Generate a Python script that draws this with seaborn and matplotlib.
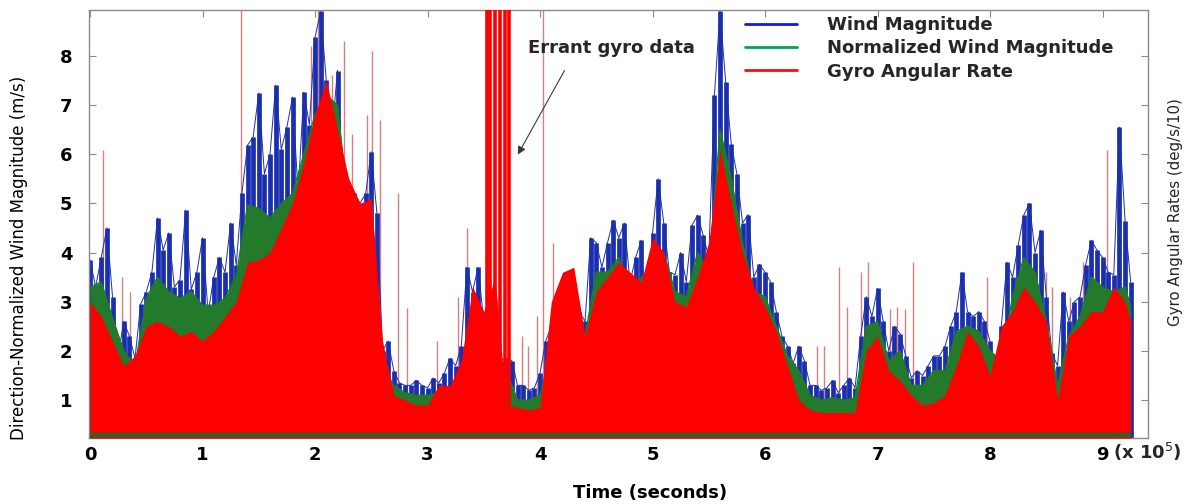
import numpy as np
import matplotlib
matplotlib.use("Agg")
import matplotlib.pyplot as plt
import seaborn as sns
from matplotlib.lines import Line2D

# ---- data (x in units of 1e5 s) ----
# Wind magnitude upper envelope, every 0.05e5 s from 0 to 9.25e5 s
wind_mag = [
    3.85, 3.3, 3.9, 4.5, 3.1, 1.9, 2.6, 2.3, 1.85, 2.95, 3.2, 3.6, 4.7, 4.05, 4.4, 3.3, 3.45, 4.86, 3.25, 3.6,
    4.3, 2.77, 3.5, 3.9, 3.6, 4.6, 3.75, 5.2, 6.18, 6.35, 7.24, 5.6, 6.0, 7.4, 6.1, 6.55, 7.16, 5.2, 7.26, 6.6,
    8.38, 8.9, 7.5, 6.4, 7.7, 5.2, 5.0, 5.2, 5.0, 5.2, 6.05, 4.8, 2.0, 2.2, 1.6, 1.35, 1.3, 1.3, 1.4, 1.3,
    1.25, 1.45, 1.35, 1.55, 1.85, 1.7, 2.1, 3.7, 3.2, 3.7, 2.6, 2.0, 1.9, 1.8, 1.85, 1.8, 1.3, 1.3, 1.2, 1.25,
    1.55, 2.2, 2.5, 2.6, 2.5, 2.7, 2.7, 2.8, 2.6, 4.3, 4.2, 3.7, 4.2, 4.66, 4.3, 4.6, 3.4, 3.9, 4.25, 1.85,
    4.4, 5.5, 4.6, 3.6, 3.55, 4.0, 3.4, 4.55, 4.76, 4.35, 3.9, 7.2, 8.9, 7.47, 6.2, 5.6, 4.6, 4.77, 3.5, 3.76,
    3.6, 3.4, 2.8, 2.3, 2.1, 1.75, 2.1, 1.8, 1.3, 1.3, 1.2, 1.25, 1.4, 1.15, 1.3, 1.45, 1.25, 2.3, 3.1, 2.7,
    3.27, 2.6, 2.0, 2.5, 2.35, 1.9, 1.45, 1.6, 1.5, 1.7, 1.9, 1.9, 2.1, 2.5, 2.8, 3.6, 2.8, 2.7, 2.8, 2.6,
    2.2, 1.65, 2.5, 3.8, 3.5, 4.15, 4.76, 5.0, 4.0, 4.45, 3.1, 1.95, 1.7, 3.2, 2.6, 3.0, 3.1, 3.75, 4.25, 4.05,
    3.9, 3.6, 3.55, 6.55, 4.65, 3.4,
]
# Normalized wind magnitude envelope, every 0.1e5 s from 0 to 9.2e5 s, then the last sample at 9.25e5 s
norm_wind = [
    3.3, 3.4, 2.67, 2.0, 1.7, 3.07, 3.5, 3.2, 3.07, 3.2,
    2.93, 2.93, 3.07, 3.54, 4.96, 4.9, 4.7, 5.0, 5.2, 6.0,
    6.8, 7.2, 7.0, 4.8, 4.8, 5.0, 1.7, 1.3, 1.15, 1.1,
    1.1, 1.15, 1.2, 1.6, 2.9, 2.2, 1.5, 1.6, 1.0, 1.0,
    1.1, 2.0, 2.3, 2.4, 2.3, 3.6, 3.6, 3.9, 3.2, 3.5,
    3.6, 4.0, 3.2, 3.1, 4.0, 3.6, 6.5, 5.5, 4.2, 3.2,
    3.1, 2.5, 1.9, 1.6, 1.1, 1.0, 1.05, 1.0, 1.05, 2.5,
    2.6, 1.8, 2.0, 1.3, 1.3, 1.6, 1.6, 2.4, 2.5, 2.4,
    2.0, 1.8, 3.1, 3.9, 3.6, 2.6, 1.3, 2.3, 2.7, 3.5,
    3.3, 3.2, 3.3, 2.9,
]
# Gyro angular rate envelope, same sampling as norm_wind
gyro_rate = [
    3.0, 2.7, 2.2, 1.7, 1.9, 2.5, 2.6, 2.5, 2.3, 2.4,
    2.2, 2.4, 2.7, 3.0, 3.8, 3.85, 4.0, 4.5, 5.0, 5.8,
    6.8, 7.5, 6.5, 5.5, 5.0, 5.1, 2.2, 1.1, 1.0, 0.9,
    0.9, 1.3, 1.3, 1.8, 3.3, 2.8, 3.5, 0.9, 0.85, 0.8,
    0.85, 3.0, 3.6, 3.7, 2.3, 3.2, 3.5, 3.8, 3.6, 3.4,
    4.3, 4.0, 3.0, 2.9, 3.5, 4.2, 6.1, 5.0, 4.0, 3.3,
    2.9, 2.4, 1.7, 1.0, 0.8, 0.75, 0.75, 0.75, 0.75, 2.0,
    2.3, 1.6, 1.4, 1.1, 0.9, 0.95, 1.1, 1.7, 2.4, 2.1,
    1.5, 2.5, 2.8, 3.3, 3.0, 2.6, 1.0, 2.3, 2.5, 2.8,
    2.8, 3.3, 3.0, 2.6,
]
# isolated thin gyro spikes (time in 1e5 s, height)
spike_times = [0.116, 0.284, 0.356, 1.342, 1.964, 2.027, 2.151, 2.258, 2.329, 2.462, 2.507, 2.578,
               2.738, 2.818, 3.084, 3.271, 3.351, 3.84, 3.893, 3.973, 4.027, 4.116, 6.462, 6.524,
               6.658, 6.729, 6.853, 6.916, 7.111, 7.173, 7.244, 7.316, 7.973, 8.498, 8.551, 8.711,
               8.827, 9.04]
spike_heights = [6.08, 3.5, 3.2, 9.5, 8.2, 9.5, 7.6, 8.3, 6.4, 6.8, 8.1, 6.7,
                 5.2, 2.87, 2.2, 3.1, 4.5, 2.3, 2.1, 2.7, 9.5, 4.2, 2.1, 2.1,
                 3.7, 2.9, 3.6, 3.8, 2.85, 2.9, 2.85, 3.8, 3.5, 3.6, 3.3, 3.1,
                 3.8, 6.08]
# errant gyro data (thick spikes off the top)
errant_times = [3.529, 3.556, 3.60, 3.644, 3.689, 3.724]
errant_top = 9.5

wind_end = 9.25
norm_grid_end = 9.2
norm_last = 9.25
x_ticks = [0, 1, 2, 3, 4, 5, 6, 7, 8, 9]
y_ticks = [1, 2, 3, 4, 5, 6, 7, 8]
scale = 1e5

# ---- styling ----
sns.set_theme(style="ticks")
plt.rcParams["font.family"] = ["DejaVu Sans"]

BLUE_FILL = "#1a2fae"
GREEN_FILL = "#237a2a"
RED_FILL = "#ff0000"
SPIKE = "#d48080"
FS = 13

fig = plt.figure(figsize=(12, 5.04), dpi=100)
ax = fig.add_axes([89 / 1200, 66 / 504, 1059 / 1200, 428 / 504])

floor = 0.23
t_w = np.linspace(0, wind_end * scale, len(wind_mag))
t_n = np.append(np.linspace(0, norm_grid_end * scale, len(norm_wind) - 1), norm_last * scale)
t_g = np.append(np.linspace(0, norm_grid_end * scale, len(gyro_rate) - 1), norm_last * scale)

ax.vlines(np.array(spike_times) * scale, floor, spike_heights, color=SPIKE, lw=1.0, zorder=1)
ax.vlines(t_w, floor, wind_mag, color=BLUE_FILL, lw=3.4, zorder=2)
sns.lineplot(x=t_w, y=wind_mag, color=BLUE_FILL, lw=0.7, ax=ax, zorder=2, legend=False)
ax.fill_between(t_n, floor, norm_wind, color=GREEN_FILL, lw=0, zorder=4)
sns.lineplot(x=t_n, y=norm_wind, color=GREEN_FILL, lw=1.0, ax=ax, zorder=4, legend=False)
ax.fill_between(t_g, floor, gyro_rate, color=RED_FILL, lw=0, zorder=5)
ax.vlines(np.array(errant_times) * scale, floor, errant_top, color=RED_FILL, lw=2.6, zorder=6)
ax.plot([0, wind_end * scale], [0.3, 0.3], color="#1f6a2a", lw=3, zorder=7, solid_capstyle="butt")

ax.set_xlim(-0.009 * scale, 9.404 * scale)
ax.set_ylim(0.23, 8.93)
ax.set_xticks([v * scale for v in x_ticks])
ax.set_xticklabels([str(v) for v in x_ticks], fontweight="bold")
ax.set_yticks(y_ticks)
ax.set_yticklabels([str(v) for v in y_ticks], fontweight="bold")

for s in ax.spines.values():
    s.set_color("#8a8a8a")
    s.set_linewidth(1.0)
ax.tick_params(direction="in", length=5, width=0.8, color="#8a8a8a",
               top=True, right=True, labelright=False, labeltop=False,
               labelsize=FS, labelcolor="black")
ax.tick_params(axis="x", pad=6)
ax.tick_params(axis="y", pad=12)

ax.set_xlabel("Time (seconds)", fontsize=FS, fontweight="bold", color="black")
ax.xaxis.set_label_coords(0.53, -0.107)
ax.set_ylabel("Direction-Normalized Wind Magnitude (m/s)", fontsize=12, color="black")
ax.yaxis.set_label_coords(-0.058, 0.42)
ax.text(1.0255, 0.528, "Gyro Angular Rates (deg/s/10)", rotation=90, fontsize=10.8,
        ha="center", va="center", transform=ax.transAxes)
ax.text(0.967, -0.033, r"(x 10$^5$)", fontsize=FS, fontweight="bold", ha="left", va="center",
        transform=ax.transAxes)

ax.annotate("", xy=(3.79 * scale, 5.94), xytext=(4.23 * scale, 7.75),
            arrowprops=dict(arrowstyle="-|>", color="#3a3a3a", lw=0.8,
                            mutation_scale=12), zorder=8)
ax.text(3.89 * scale, 8.15, "Errant gyro data", fontsize=FS, fontweight="bold",
        ha="left", va="center", zorder=8)

handles = [Line2D([], [], color="#1515e0", lw=2),
           Line2D([], [], color="#00a550", lw=2),
           Line2D([], [], color="#f01010", lw=2)]
labels = ["Wind Magnitude", "Normalized Wind Magnitude", "Gyro Angular Rate"]
ax.legend(handles, labels, loc="upper left", bbox_to_anchor=(0.6195, 0.985),
          frameon=False, prop={"size": FS, "weight": "bold"}, handlelength=2.9,
          handletextpad=1.65, labelspacing=0.28, borderpad=0, borderaxespad=0)

fig.savefig("out.png", dpi=100, facecolor="white")
